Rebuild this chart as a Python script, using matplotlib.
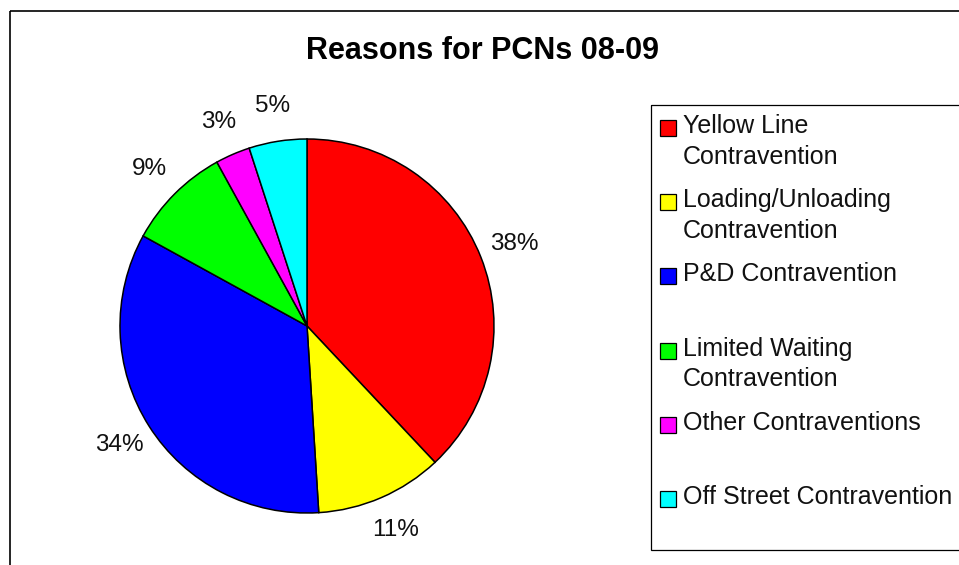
import matplotlib
matplotlib.use("Agg")
import matplotlib.pyplot as plt
from matplotlib.patches import Rectangle

plt.rcParams['font.family'] = ['Liberation Sans', 'DejaVu Sans']

# PCN reasons, financial year 08-09 (percent of total)
reasons = ['Yellow Line\nContravention', 'Loading/Unloading\nContravention',
           'P&D Contravention', 'Limited Waiting\nContravention',
           'Other Contraventions', 'Off Street Contravention']
shares = [38, 11, 34, 9, 3, 5]
colours = ['#FF0000', '#FFFF00', '#0000FF', '#00FF00', '#FF00FF', '#00FFFF']

W, H = 959, 565
fig = plt.figure(figsize=(W / 100, H / 100), dpi=100)

# pie: centre (307, 326) px, radius 187 px
cx, cy, r = 307, 326, 187
ax = fig.add_axes([(cx - r) / W, (H - cy - r) / H, 2 * r / W, 2 * r / H])
wedges, texts, autotexts = ax.pie(
    shares, colors=colours, startangle=90, counterclock=False,
    autopct='%1.0f%%', pctdistance=1.19,
    wedgeprops=dict(edgecolor='black', linewidth=1.1),
    textprops=dict(fontsize=17.5, color='#111111'))
for t in autotexts:
    t.set_clip_on(False)
ax.set_xlim(-1, 1)
ax.set_ylim(-1, 1)
ax.set_aspect('equal')

# overlay in pixel units for frame, title and legend
ov = fig.add_axes([0, 0, 1, 1], zorder=-1)
ov.set_xlim(0, W)
ov.set_ylim(H, 0)
ov.axis('off')
ov.patch.set_alpha(0)

ov.add_patch(Rectangle((9.5, 10.5), 1000, 600, fill=False,
                       edgecolor='black', linewidth=1.2, clip_on=False))
ov.text(482, 51, 'Reasons for PCNs 08-09', fontsize=22,
        fontweight='bold', ha='center', va='center')

ov.add_patch(Rectangle((650.5, 104.5), 400, 445.5, fill=False,
                       edgecolor='black', linewidth=0.9, clip_on=False))
base0, step = 134, 74.2
for i, (lab, col) in enumerate(zip(reasons, colours)):
    yb = base0 + i * step
    ov.add_patch(Rectangle((660, yb - 14), 16, 16, facecolor=col,
                           edgecolor='black', linewidth=0.9))
    ov.text(683, yb - 20, lab, fontsize=18, ha='left', va='top',
            linespacing=1.36, color='#111111')

fig.savefig('out.png', dpi=100)
